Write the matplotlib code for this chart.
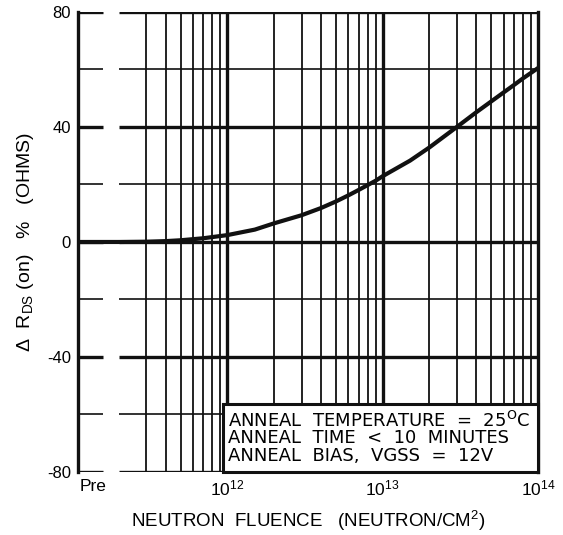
import matplotlib.pyplot as plt
from matplotlib.patches import Rectangle

plt.rcParams['font.family'] = ['Liberation Sans', 'DejaVu Sans']

# neutron fluence (n/cm^2) and resistance change (%)
fluence = [1.09e11, 2e11, 3e11, 4e11, 5e11, 7e11, 1e12, 1.5e12, 2e12, 3e12,
           4e12, 5e12, 6e12, 7e12, 8e12, 9e12, 1e13, 1.5e13, 2e13, 3e13,
           4e13, 5e13, 6e13, 7e13, 8e13, 9e13, 1e14]
delta_r = [0, 0, 0.1, 0.3, 0.6, 1.3, 2.4, 4.3, 6.5, 9.3,
           11.8, 14.1, 16.2, 18.1, 19.8, 21.3, 22.9, 28.3, 32.9, 40.0,
           45.1, 48.9, 52.0, 54.6, 56.9, 58.8, 60.5]

y_ticks = [-80, -40, 0, 40, 80]
y_minor = [-60, -20, 20, 60]
x_ticks = [1.37e11, 1e12, 1e13, 1e14]
x_labels = ['Pre', r'$\mathregular{10^{12}}$', r'$\mathregular{10^{13}}$', r'$\mathregular{10^{14}}$']
note = ['ANNEAL  TEMPERATURE  =  25$\\mathregular{^O}$C',
        'ANNEAL  TIME  <  10  MINUTES',
        'ANNEAL  BIAS,  VGSS  =  12V']

xmin, xmax = 1.09e11, 1e14
gap_lo, gap_hi = 1.58e11, 2e11

fig = plt.figure(figsize=(5.63, 5.35), dpi=100)
ax = fig.add_axes([0.1385, 0.1178, 0.8171, 0.8598])
ax.set_xscale('log')
ax.set_xlim(xmin, xmax)
ax.set_ylim(-80, 80)

# vertical grid: decades thick, the rest thin
for dec in [1e11, 1e12, 1e13]:
    for m in range(2, 10):
        x = m * dec
        if x < 3e11:
            continue
        ax.vlines(x, -80, 80, color='#111', lw=1.3, zorder=1)
for x in [1e12, 1e13]:
    ax.vlines(x, -80, 80, color='#111', lw=2.4, zorder=1)

# horizontal grid, broken between "Pre" and the scale
for y in y_ticks + y_minor:
    w = 2.4 if y in y_ticks else 1.2
    ax.hlines(y, xmin, gap_lo, color='#111', lw=w, zorder=1)
    ax.hlines(y, gap_hi, xmax, color='#111', lw=w, zorder=1)

ax.plot(fluence, delta_r, color='#111', lw=3.0, zorder=3,
        solid_capstyle='round', solid_joinstyle='round')

for side in ['top', 'bottom']:
    ax.spines[side].set_visible(False)
for side in ['left', 'right']:
    ax.spines[side].set_linewidth(2.4)
    ax.spines[side].set_color('#111')

ax.set_yticks(y_ticks)
ax.set_yticklabels([str(v) for v in y_ticks], fontsize=12)
ax.set_xticks(x_ticks)
ax.set_xticklabels(x_labels, fontsize=12.5)
ax.minorticks_off()
ax.tick_params(length=0, pad=5)

ax.set_xlabel(r'NEUTRON  FLUENCE   (NEUTRON/$\mathregular{CM^2}$)', fontsize=13.5, labelpad=7)
ax.set_ylabel(r'Δ  $\mathregular{R_{DS}}$ (on)   %   (OHMS)', fontsize=14, labelpad=8)

# note box in the lower right corner
ax.add_patch(Rectangle((0.315, 0.0), 0.685, 0.148, transform=ax.transAxes,
                       facecolor='white', edgecolor='#111', lw=2.2, zorder=4, clip_on=False))
for i, line in enumerate(note):
    ax.text(0.326, 0.111 - i * 0.038, line, transform=ax.transAxes, fontsize=13,
            va='center', ha='left', zorder=5, family=['DejaVu Sans'])

plt.savefig('out.png', dpi=100)
